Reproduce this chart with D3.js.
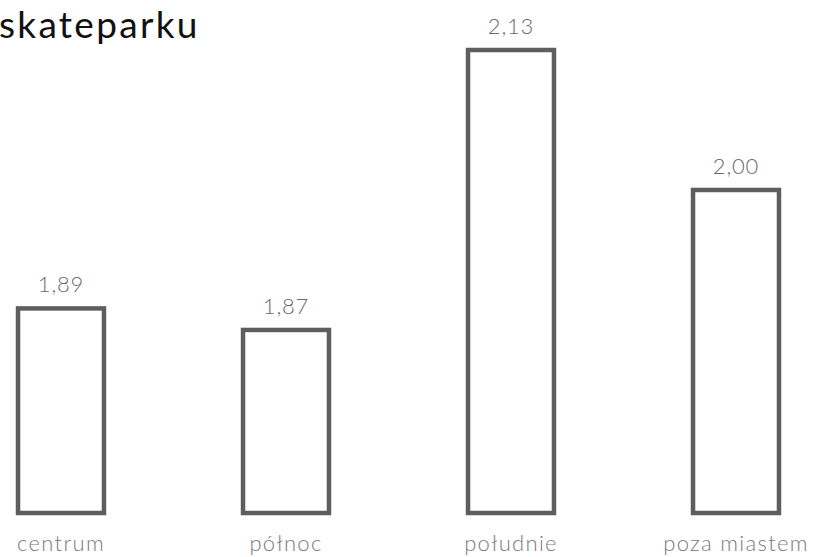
<!DOCTYPE html>
<html>
<head>
<meta charset="utf-8">
<script src="https://cdnjs.cloudflare.com/ajax/libs/d3/7.8.5/d3.min.js"></script>
<style>
  html, body { margin: 0; padding: 0; background: #fff; overflow: hidden; }
  svg { display: block; font-family: Lato, "Open Sans", sans-serif; }
</style>
</head>
<body>
<div id="chart"></div>
<script>
// data
const categories = ['centrum', 'północ', 'południe', 'poza miastem'];
const values = [1.89, 1.87, 2.13, 2.00];
const title = 'skateparku';

const width = 814, height = 557;
const fmt = v => v.toFixed(2).replace('.', ',');

const svg = d3.select('#chart').append('svg')
  .attr('width', width)
  .attr('height', height);

// plot area runs a little past the window edges (chart is cropped)
const x = d3.scaleBand()
  .domain(categories)
  .range([-51.5, 848.5])
  .paddingInner(0.618)
  .paddingOuter(0.309);

const y = d3.scaleLinear()
  .domain([1.7, 2.13])
  .range([513, 50]);

svg.append('text')
  .attr('x', -1)
  .attr('y', 38)
  .style('font-size', '37px')
  .style('letter-spacing', '2.3px')
  .style('fill', '#111')
  .text(title);

const bars = svg.append('g');

bars.selectAll('rect')
  .data(values)
  .join('rect')
  .attr('x', (d, i) => x(categories[i]))
  .attr('y', d => y(d))
  .attr('width', x.bandwidth())
  .attr('height', d => y.range()[0] - y(d))
  .style('fill', 'none')
  .style('stroke', '#5e5e5e')
  .style('stroke-width', 4.5);

bars.selectAll('text.val')
  .data(values)
  .join('text')
  .attr('class', 'val')
  .attr('x', (d, i) => x(categories[i]) + x.bandwidth() / 2)
  .attr('y', d => y(d) - 16)
  .attr('text-anchor', 'middle')
  .style('font-size', '22px')
  .style('font-weight', 300)
  .style('letter-spacing', '0.8px')
  .style('fill', '#6b6b6b')
  .text(d => fmt(d));

bars.selectAll('text.cat')
  .data(categories)
  .join('text')
  .attr('class', 'cat')
  .attr('x', d => x(d) + x.bandwidth() / 2)
  .attr('y', 551)
  .attr('text-anchor', 'middle')
  .style('font-size', '22px')
  .style('font-weight', 300)
  .style('letter-spacing', '1.3px')
  .style('fill', '#7a7a7a')
  .text(d => d);
</script>
</body>
</html>
